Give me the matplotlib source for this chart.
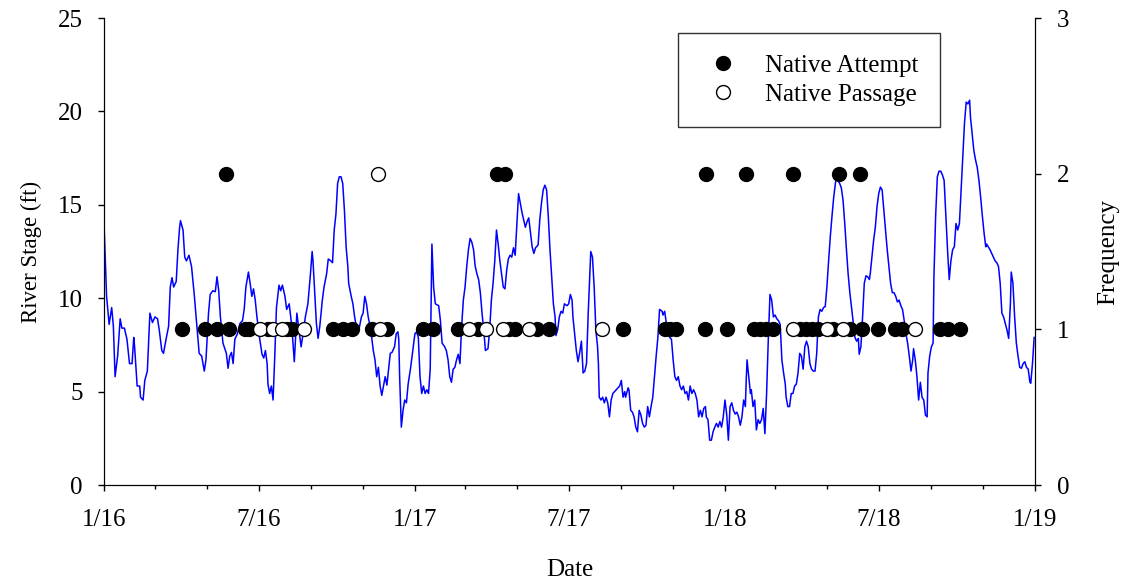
import numpy as np
import matplotlib
matplotlib.use('Agg')
import matplotlib.pyplot as plt
import matplotlib.dates as mdates
from matplotlib.ticker import FuncFormatter

# Serif font like Times
plt.rcParams['font.family'] = ['Liberation Serif', 'DejaVu Serif']

start = np.datetime64('2016-01-01')

# river stage, days since 1/1/2016 and stage in ft
stage_day = [0, 3, 6, 9, 11, 13, 16, 19, 21, 24, 27, 30, 33, 35, 36, 39, 42, 43, 46, 48, 51, 52, 54, 57, 60, 63, 65, 68, 70,
             73, 76, 78, 80, 82, 85, 87, 89, 90, 93, 95, 97, 100, 103, 106, 109, 112, 115, 118, 120, 123, 125, 128, 131,
             133, 135, 137, 140, 144, 146, 148, 150, 152, 154, 157, 160, 163, 165, 167, 170, 172, 174, 176, 178, 180, 183,
             186, 188, 190, 192, 193, 195, 197, 199, 201, 203, 206, 208, 210,
             213, 215, 218, 221, 224, 227, 230, 232, 235, 237, 240, 243, 245, 246, 248, 250, 252, 254, 257, 259, 262, 264,
             267, 269, 271, 273, 275, 277, 279, 281, 283, 285, 287, 288, 291, 293, 295, 297, 299, 300, 303, 305, 307, 309,
             311, 314, 317, 319, 321, 323, 325, 327, 329, 331, 333, 335, 337, 339, 342, 344, 346, 347, 348, 350, 352, 354,
             356, 358, 361, 364, 366, 368, 370, 372, 374, 376, 378, 380, 382, 384, 386, 388, 390, 394, 396, 398, 401, 403,
             405, 407, 409, 411, 413, 415, 417, 419, 421, 423, 425, 427, 429,
             431, 433, 435, 437, 439, 441, 443, 445, 447, 449, 452, 454, 456, 458, 460, 462, 464, 466, 468, 470, 472, 474,
             476, 478, 480, 482, 484, 486, 488, 490, 492, 493, 496, 498, 500, 502, 504, 506, 508, 511, 513, 515, 517, 519,
             521, 523, 525, 527, 529, 531, 532, 534, 536, 538, 540, 542, 545, 547, 549, 551, 552, 554, 556, 558, 560, 562,
             564, 566, 568, 570, 572, 573, 575, 577, 579, 581, 582, 583, 585, 587, 589, 591, 593, 595, 597, 599, 601, 603,
             605, 607, 609, 611, 613, 614, 617, 618, 620, 622, 624, 626, 628, 630, 632, 634, 636, 638, 640, 642, 644, 646,
             648, 650, 652, 654,
             657, 658, 660, 662, 664, 666, 668, 670, 672, 674, 676, 678, 680, 682, 684, 686, 688, 690, 692, 694, 696, 698,
             700, 702, 704, 706, 708, 709, 711, 713, 715, 717, 719, 721, 723, 725, 727, 729, 731, 733, 735, 737, 739, 741,
             743, 745, 747, 749, 751, 753, 755, 756, 757, 759, 761, 762, 764, 766, 768, 770, 772, 774, 776, 778, 780, 782,
             784, 786, 788, 790, 792, 794, 796, 798, 800, 802, 803, 805, 807, 809, 811, 813, 815, 817, 819, 821, 823, 825,
             827, 829, 831, 833, 835, 837, 839, 841, 843, 845, 847, 849, 851, 853, 855, 857, 859, 861, 862, 864,
             866, 868, 870, 872, 874, 876, 878, 880, 882, 884, 886, 888, 889, 891, 893, 895, 897, 899, 901, 902, 904, 906,
             908, 910, 912, 914, 916, 918, 920, 922, 924, 926, 928, 930, 932, 934, 936, 938, 940, 942, 944, 946, 948, 950,
             952, 953, 955, 957, 959, 961, 963, 965, 967, 969, 970, 972, 974, 976, 977, 979, 981, 983, 985, 987, 989, 991,
             993, 995, 997, 999, 1001, 1003, 1005, 1007, 1009, 1011, 1013, 1015, 1017, 1019, 1020, 1022, 1024, 1026, 1028,
             1030, 1032, 1034, 1036, 1038, 1039, 1041, 1043, 1045, 1047, 1049, 1051, 1053, 1055, 1057, 1059, 1061, 1063,
             1065, 1067, 1068, 1070, 1072, 1074, 1076, 1078, 1080, 1082, 1084, 1086, 1088, 1090, 1091, 1093, 1095]
stage_ft = [14.0, 10.1, 8.6, 9.5, 8.5, 5.8, 6.9, 8.9, 8.4, 8.4, 7.8, 6.5, 6.5, 7.9, 7.4, 5.3, 5.3, 4.7, 4.55, 5.6, 6.1, 7.1,
            9.2, 8.7, 9.0, 8.9, 8.3, 7.2, 7.05, 7.8, 8.5, 10.6, 11.1, 10.6, 10.9, 12.6, 13.8, 14.15, 13.65, 12.2, 12.0,
            12.3, 11.7, 10.3, 8.65, 7.05, 6.9, 6.1, 6.7, 9.2, 10.2, 10.4, 10.35, 11.15, 10.4, 9.0, 7.6, 7.05, 6.25, 6.9,
            7.1, 6.5, 7.8, 8.1, 8.65, 8.8, 9.4, 10.6, 11.4, 10.8, 10.1, 10.5, 9.9, 9.0, 7.9, 7.0, 6.8, 7.2, 6.5, 5.4, 4.9,
            5.3, 4.55, 6.9, 9.5, 10.7, 10.4, 10.7,
            10.1, 9.4, 9.7, 8.5, 6.6, 9.2, 8.1, 7.4, 8.3, 9.0, 9.7, 11.3, 12.5, 12.0, 10.3, 8.65, 7.85, 8.5, 9.9, 10.6,
            11.3, 12.1, 12.0, 11.9, 13.65, 14.5, 16.15, 16.5, 16.5, 16.15, 14.7, 12.75, 11.7, 10.8, 10.1, 9.7, 9.0, 8.5,
            8.2, 8.3, 9.0, 9.2, 10.1, 9.7, 9.0, 8.3, 7.2, 6.7, 5.8, 6.3, 5.3, 4.8, 5.3, 5.8, 5.35, 6.2, 7.05, 7.1, 7.4,
            8.1, 8.2, 7.8, 5.8, 3.1, 4.0, 4.55, 4.4, 5.4, 6.3, 7.4, 8.1, 8.2, 7.9, 5.8, 4.9, 5.3, 4.9, 5.1, 4.9, 6.2,
            12.9, 10.6, 9.7, 9.6, 8.8, 7.6, 7.4, 7.2, 6.7, 5.8, 5.5, 6.2, 6.3, 6.7, 7.0, 6.5, 8.5, 9.9, 10.6, 11.7, 12.6,
            13.2, 13.0, 12.6, 11.7, 11.3, 11.0, 10.3, 9.2, 8.3, 7.2, 7.3, 8.3, 9.9, 10.8, 12.0, 13.65, 12.9, 12.0, 11.3,
            10.6, 10.5, 11.5, 12.1, 12.3, 12.2, 12.7, 12.3, 14.0, 15.6, 15.1, 14.6, 14.4, 13.8, 14.1, 14.3, 13.5, 12.75,
            12.4, 12.7, 12.85, 14.2, 15.1, 15.8, 16.05, 15.8, 14.4, 12.6, 11.15, 9.7, 9.0, 8.0, 8.3, 9.0, 9.3, 9.2, 9.7,
            9.6, 9.7, 10.2, 9.9, 9.0, 8.1, 7.2, 6.6, 7.1, 7.7, 6.0, 6.1, 6.5, 9.2, 11.5, 12.5, 12.2, 10.6, 8.3, 7.4, 6.5,
            4.7, 4.55, 4.7, 4.4, 4.7, 4.4, 3.65, 4.55, 4.9, 5.0, 5.1, 5.2, 5.3, 5.6, 4.7, 5.0, 4.7, 5.2, 5.1, 4.0, 3.9,
            3.65, 3.1, 2.85, 4.0, 3.75, 3.3, 3.1, 3.2, 4.2, 3.65, 4.2, 4.7, 5.8, 6.9, 7.9, 9.4,
            9.3, 9.1, 9.3, 8.65, 8.1, 7.9, 7.8, 6.7, 5.8, 5.6, 5.8, 5.3, 5.1, 5.3, 4.9, 5.0, 4.55, 5.3, 4.9, 5.1, 4.9,
            4.55, 3.65, 4.0, 3.65, 4.1, 4.2, 3.65, 3.5, 2.4, 2.4, 2.85, 3.1, 3.3, 3.1, 3.4, 3.1, 3.65, 4.55, 3.8, 2.4,
            4.2, 4.4, 4.0, 3.8, 3.9, 3.65, 3.2, 3.65, 4.55, 4.2, 5.6, 6.7, 5.8, 4.9, 5.1, 4.2, 4.55, 2.95, 3.5, 3.3, 3.5,
            4.1, 2.75, 4.9, 7.8, 10.2, 9.9, 9.0, 9.1, 8.9, 8.8, 8.6, 6.7, 6.0, 5.4, 4.7, 4.2, 4.2, 4.9, 4.9, 5.3, 5.4,
            6.0, 7.05, 6.9, 6.2, 7.4, 7.7, 7.4, 6.5, 6.2, 6.1, 6.1, 7.05, 9.0, 9.4, 9.3, 9.5, 9.55, 10.6, 12.0, 13.3,
            14.4, 15.4, 16.15, 16.4, 16.3,
            16.15, 15.9, 15.25, 14.0, 12.6, 11.3, 10.3, 9.5, 8.65, 7.9, 7.7, 7.85, 7.0, 7.4, 9.0, 10.8, 11.2, 11.15, 11.0,
            11.3, 12.2, 13.1, 13.8, 14.9, 15.6, 15.95, 15.8, 14.7, 13.65, 12.6, 11.7, 10.8, 10.3, 10.3, 10.1, 9.8, 9.9,
            9.6, 9.4, 8.8, 8.1, 7.6, 6.9, 6.1, 6.7, 7.3, 6.7, 5.8, 4.55, 5.5, 4.7, 4.55, 3.75, 3.65, 6.0, 6.9, 7.4, 7.6,
            11.15, 14.4, 16.5, 16.8, 16.8, 16.6, 16.3, 14.4, 12.6, 11.0, 12.0, 12.6, 12.75, 14.0, 13.65, 14.0, 15.8, 17.6,
            19.4, 20.5, 20.4, 20.6, 19.7, 18.8, 17.9, 17.4, 17.0, 16.3, 15.4, 14.4, 13.5, 12.75, 12.9, 12.75, 12.6, 12.4,
            12.2, 12.0, 11.9, 11.7, 10.8, 9.2, 9.0, 8.65, 8.3, 7.85, 9.7, 11.4, 10.8, 9.0, 7.6, 6.9, 6.3, 6.25, 6.5, 6.6,
            6.3, 6.2, 5.5, 5.45, 6.5, 7.9]

# fish attempts and passages, days since 1/1/2016
attempt1_day = [92, 119, 133, 147, 166, 171, 193, 215, 221, 270, 281, 292, 315, 333, 376, 387, 417, 440, 477, 484,
                510, 524, 611, 660, 666, 673, 707, 733, 765, 772, 779, 788, 819, 826, 833, 841, 858, 878, 892, 911,
                931, 939, 984, 994, 1008]
attempt2_day = [144, 463, 472, 709, 756, 811, 865, 890]
passage1_day = [184, 199, 210, 235, 325, 430, 450, 470, 500, 586, 811, 851, 870, 955]
passage2_day = [323]


def to_date(days):
    return start + np.array(days).astype('timedelta64[D]')


fig = plt.figure(figsize=(11.21, 5.85), dpi=100)
ax = fig.add_axes([0.0928, 0.1709, 0.8305, 0.7983])

# river stage line
ax.plot(to_date(stage_day), stage_ft, color='blue', lw=1.1)
ax.set_xlim(np.datetime64('2016-01-01'), np.datetime64('2019-01-01'))
ax.set_ylim(0, 25)
ax.set_yticks([0, 5, 10, 15, 20, 25])

ax.xaxis.set_major_locator(mdates.MonthLocator(bymonth=[1, 7]))
ax.xaxis.set_minor_locator(mdates.MonthLocator(bymonth=[3, 5, 9, 11]))
ax.xaxis.set_major_formatter(FuncFormatter(
    lambda v, p: '%d/%02d' % (mdates.num2date(v).month, mdates.num2date(v).year % 100)))

ax.set_xlabel('Date', fontsize=18, labelpad=20)
ax.set_ylabel('River Stage (ft)', fontsize=16.5, labelpad=11)
ax.tick_params(axis='both', which='major', direction='out', length=4.5, width=1, labelsize=18)
ax.tick_params(axis='x', which='major', pad=13)
ax.tick_params(axis='y', which='major', pad=11)
ax.tick_params(axis='x', which='minor', direction='out', length=3, width=1)
ax.spines['top'].set_visible(False)

# frequency on the right axis
ax2 = ax.twinx()
ax2.plot(to_date(attempt1_day), [1] * len(attempt1_day), 'o', ms=10, color='black', label='Native Attempt')
ax2.plot(to_date(attempt2_day), [2] * len(attempt2_day), 'o', ms=10, color='black')
ax2.plot(to_date(passage1_day), [1] * len(passage1_day), 'o', ms=10, mfc='white', mec='black', mew=1,
         label='Native Passage')
ax2.plot(to_date(passage2_day), [2] * len(passage2_day), 'o', ms=10, mfc='white', mec='black', mew=1)
ax2.set_ylim(0, 3)
ax2.set_yticks([0, 1, 2, 3])
ax2.set_ylabel('Frequency', fontsize=18, labelpad=20)
ax2.tick_params(axis='y', direction='out', length=4.5, width=1, labelsize=18, pad=11)
ax2.spines['top'].set_visible(False)
ax2.set_xlim(np.datetime64('2016-01-01'), np.datetime64('2019-01-01'))

leg = ax2.legend(loc='upper right', bbox_to_anchor=(0.898, 0.968), fontsize=18, frameon=True, fancybox=False,
                 borderpad=0.85, labelspacing=0.28, handlelength=1.9, handletextpad=0.75, borderaxespad=0)
leg.get_frame().set_edgecolor('black')
leg.get_frame().set_linewidth(1.0)

plt.savefig('out.png', dpi=100)
